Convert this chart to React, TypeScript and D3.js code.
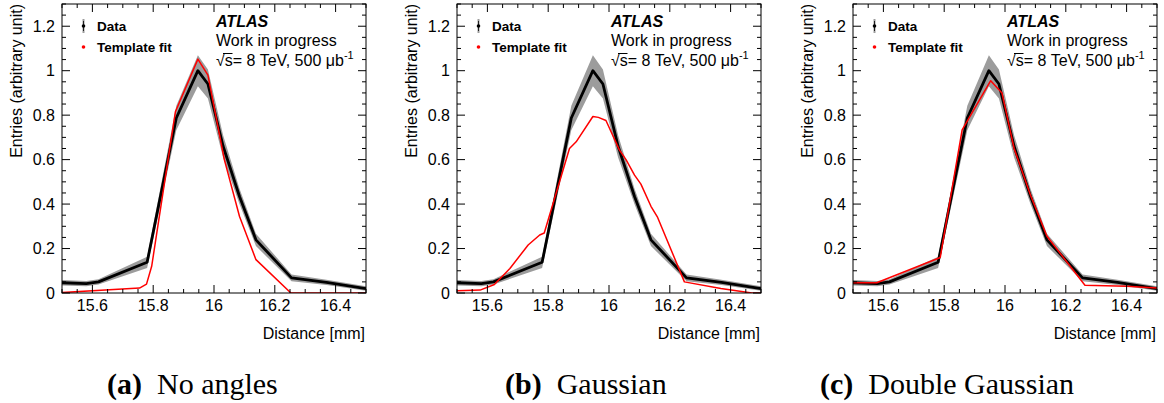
import React from "react";
import * as d3 from "d3";

// ---------- data ----------
const X_DOMAIN = [15.5, 16.5];
const Y_DOMAIN = [0, 1.3];
const xTickValues = [15.6, 15.8, 16.0, 16.2, 16.4];
const xTickLabels = ["15.6", "15.8", "16", "16.2", "16.4"];
const yTickValues = [0, 0.2, 0.4, 0.6, 0.8, 1.0, 1.2];
const yTickLabels = ["0", "0.2", "0.4", "0.6", "0.8", "1", "1.2"];

const dataX = [15.5, 15.58, 15.62, 15.78, 15.876, 15.947, 15.98, 16.03, 16.084, 16.138, 16.255, 16.37, 16.5];
const dataY = [0.046, 0.042, 0.05, 0.138, 0.787, 1.0, 0.94, 0.66, 0.434, 0.239, 0.068, 0.048, 0.02];
const dataErr = [0.012, 0.012, 0.012, 0.025, 0.055, 0.07, 0.065, 0.05, 0.035, 0.028, 0.015, 0.012, 0.01];

const fitAX = [15.5, 15.755, 15.778, 15.795, 15.873, 15.947, 15.98, 16.034, 16.084, 16.138, 16.253, 16.5];
const fitAY = [0.002, 0.022, 0.04, 0.12, 0.815, 1.052, 0.98, 0.6, 0.344, 0.15, 0.0, 0.0];

const fitBX = [15.5, 15.576, 15.623, 15.674, 15.734, 15.772, 15.787, 15.87, 15.892, 15.947, 15.965, 15.99, 16.034, 16.056, 16.084, 16.105, 16.138, 16.16, 16.248, 16.368, 16.47, 16.5];
const fitBY = [0.01, 0.013, 0.038, 0.11, 0.216, 0.261, 0.27, 0.65, 0.68, 0.794, 0.79, 0.776, 0.644, 0.6, 0.53, 0.49, 0.39, 0.34, 0.05, 0.02, 0.0, 0.0];

const fitCX = [15.5, 15.578, 15.605, 15.787, 15.859, 15.953, 15.99, 16.03, 16.084, 16.138, 16.263, 16.4, 16.5];
const fitCY = [0.046, 0.046, 0.061, 0.16, 0.734, 0.955, 0.9, 0.65, 0.44, 0.255, 0.035, 0.03, 0.022];

const panelLabels = ["(a)", "(b)", "(c)"];
const panelTitles = ["No angles", "Gaussian", "Double Gaussian"];

// ---------- layout ----------
const W = 1164;
const H = 403;
const PANEL_LEFTS = [62, 457, 853];
const CAPTION_X = [107, 505, 820];
const PW = 304;
const TOP = 4;
const BOTTOM = 293;
const SANS = "'Liberation Sans', Arial, Helvetica, sans-serif";
const SERIF = "'Liberation Serif', 'Times New Roman', serif";

const fits = [
  { x: fitAX, y: fitAY },
  { x: fitBX, y: fitBY },
  { x: fitCX, y: fitCY },
];

function Panel({ idx }: { idx: number }) {
  const left = PANEL_LEFTS[idx];
  const right = left + PW;
  const x = d3.scaleLinear().domain(X_DOMAIN).range([left, right]);
  const y = d3.scaleLinear().domain(Y_DOMAIN).range([BOTTOM, TOP]);

  const pts = dataX.map((v, i) => ({ x: v, y: dataY[i], e: dataErr[i] }));
  const band = d3
    .area<any>()
    .x((d) => x(d.x))
    .y0((d) => y(d.y - d.e))
    .y1((d) => y(d.y + d.e))(pts) as string;
  const dataLine = d3
    .line<any>()
    .x((d) => x(d.x))
    .y((d) => y(d.y))(pts) as string;
  const f = fits[idx];
  const fitPts = f.x.map((v, i) => ({ x: v, y: f.y[i] }));
  const fitLine = d3
    .line<any>()
    .x((d) => x(d.x))
    .y((d) => y(d.y))(fitPts) as string;

  const xMinor = d3.range(0, 21).map((i) => 15.5 + i * 0.05);
  const yMinor = d3.range(0, 27).map((i) => i * 0.05);
  const isMajX = (v: number) => xTickValues.some((t) => Math.abs(t - v) < 1e-6);
  const isMajY = (v: number) => yTickValues.some((t) => Math.abs(t - v) < 1e-6);
  const clipId = `clip${idx}`;
  const tx = left + 154;

  return (
    <g>
      <defs>
        <clipPath id={clipId}>
          <rect x={left} y={TOP} width={PW} height={BOTTOM - TOP} />
        </clipPath>
      </defs>
      <g clipPath={`url(#${clipId})`}>
        <path d={band} fill="#9c9c9c" stroke="none" />
        <path d={dataLine} fill="none" stroke="#000" strokeWidth={2.8} strokeLinejoin="round" />
        <path d={fitLine} fill="none" stroke="#ff0000" strokeWidth={1.5} strokeLinejoin="round" />
      </g>
      {/* frame */}
      <rect x={left} y={TOP} width={PW} height={BOTTOM - TOP} fill="none" stroke="#000" strokeWidth={1} />
      {/* x ticks */}
      {xMinor.map((v, i) => {
        const L = isMajX(v) ? 8 : 4;
        const px = x(v);
        return (
          <g key={"xt" + i}>
            <line x1={px} x2={px} y1={BOTTOM} y2={BOTTOM - L} stroke="#000" strokeWidth={1} />
            <line x1={px} x2={px} y1={TOP} y2={TOP + L} stroke="#000" strokeWidth={1} />
          </g>
        );
      })}
      {yMinor.map((v, i) => {
        const L = isMajY(v) ? 8 : 4;
        const py = y(v);
        return (
          <g key={"yt" + i}>
            <line x1={left} x2={left + L} y1={py} y2={py} stroke="#000" strokeWidth={1} />
            <line x1={right} x2={right - L} y1={py} y2={py} stroke="#000" strokeWidth={1} />
          </g>
        );
      })}
      {xTickValues.map((v, i) => (
        <text key={"xl" + i} x={x(v)} y={311} textAnchor="middle" fontFamily={SANS} fontSize={16}>
          {xTickLabels[i]}
        </text>
      ))}
      {yTickValues.map((v, i) => (
        <text key={"yl" + i} x={left - 7} y={y(v)} dy="0.36em" textAnchor="end" fontFamily={SANS} fontSize={16}>
          {yTickLabels[i]}
        </text>
      ))}
      <text x={right - 1} y={339} textAnchor="end" fontFamily={SANS} fontSize={16}>
        Distance [mm]
      </text>
      <text
        transform={`translate(${left - 40},${TOP}) rotate(-90)`}
        textAnchor="end"
        fontFamily={SANS}
        fontSize={16}
      >
        Entries (arbitrary unit)
      </text>
      {/* legend */}
      <line x1={left + 21.5} x2={left + 21.5} y1={19} y2={33} stroke="#9c9c9c" strokeWidth={2} />
      <line x1={left + 21.5} x2={left + 21.5} y1={21} y2={31} stroke="#000" strokeWidth={0.8} />
      <circle cx={left + 21.5} cy={26} r={1.8} fill="#000" />
      <text x={left + 35} y={31} fontFamily={SANS} fontSize={13.5} fontWeight="bold">
        Data
      </text>
      <circle cx={left + 21.5} cy={47} r={1.8} fill="#ff0000" />
      <text x={left + 35} y={52} fontFamily={SANS} fontSize={13.5} fontWeight="bold">
        Template fit
      </text>
      {/* ATLAS label */}
      <text x={tx} y={27} fontFamily={SANS} fontSize={16} fontWeight="bold" fontStyle="italic">
        ATLAS
      </text>
      <text x={tx} y={46} fontFamily={SANS} fontSize={16}>
        Work in progress
      </text>
      <text x={tx} y={66} fontFamily={SANS} fontSize={16}>
        {"\u221A"}
        <tspan>{"s= 8 TeV, 500 \u03BCb"}</tspan>
        <tspan fontSize={11} dy={-7}>
          -1
        </tspan>
      </text>
      <line x1={tx + 7} x2={tx + 16.5} y1={53.5} y2={53.5} stroke="#000" strokeWidth={1} />
      {/* caption */}
      <text x={CAPTION_X[idx]} y={394} fontFamily={SERIF} fontSize={30} fill="#000">
        <tspan fontWeight="bold">{panelLabels[idx]}</tspan>
        <tspan dx={15}>{panelTitles[idx]}</tspan>
      </text>
    </g>
  );
}

export default function App() {
  return (
    <svg
      width={W}
      height={H}
      viewBox={`0 0 ${W} ${H}`}
      style={{ position: "absolute", left: 0, top: 0, background: "#fff" }}
    >
      <rect x={0} y={0} width={W} height={H} fill="#fff" />
      {[0, 1, 2].map((i) => (
        <Panel key={i} idx={i} />
      ))}
    </svg>
  );
}
